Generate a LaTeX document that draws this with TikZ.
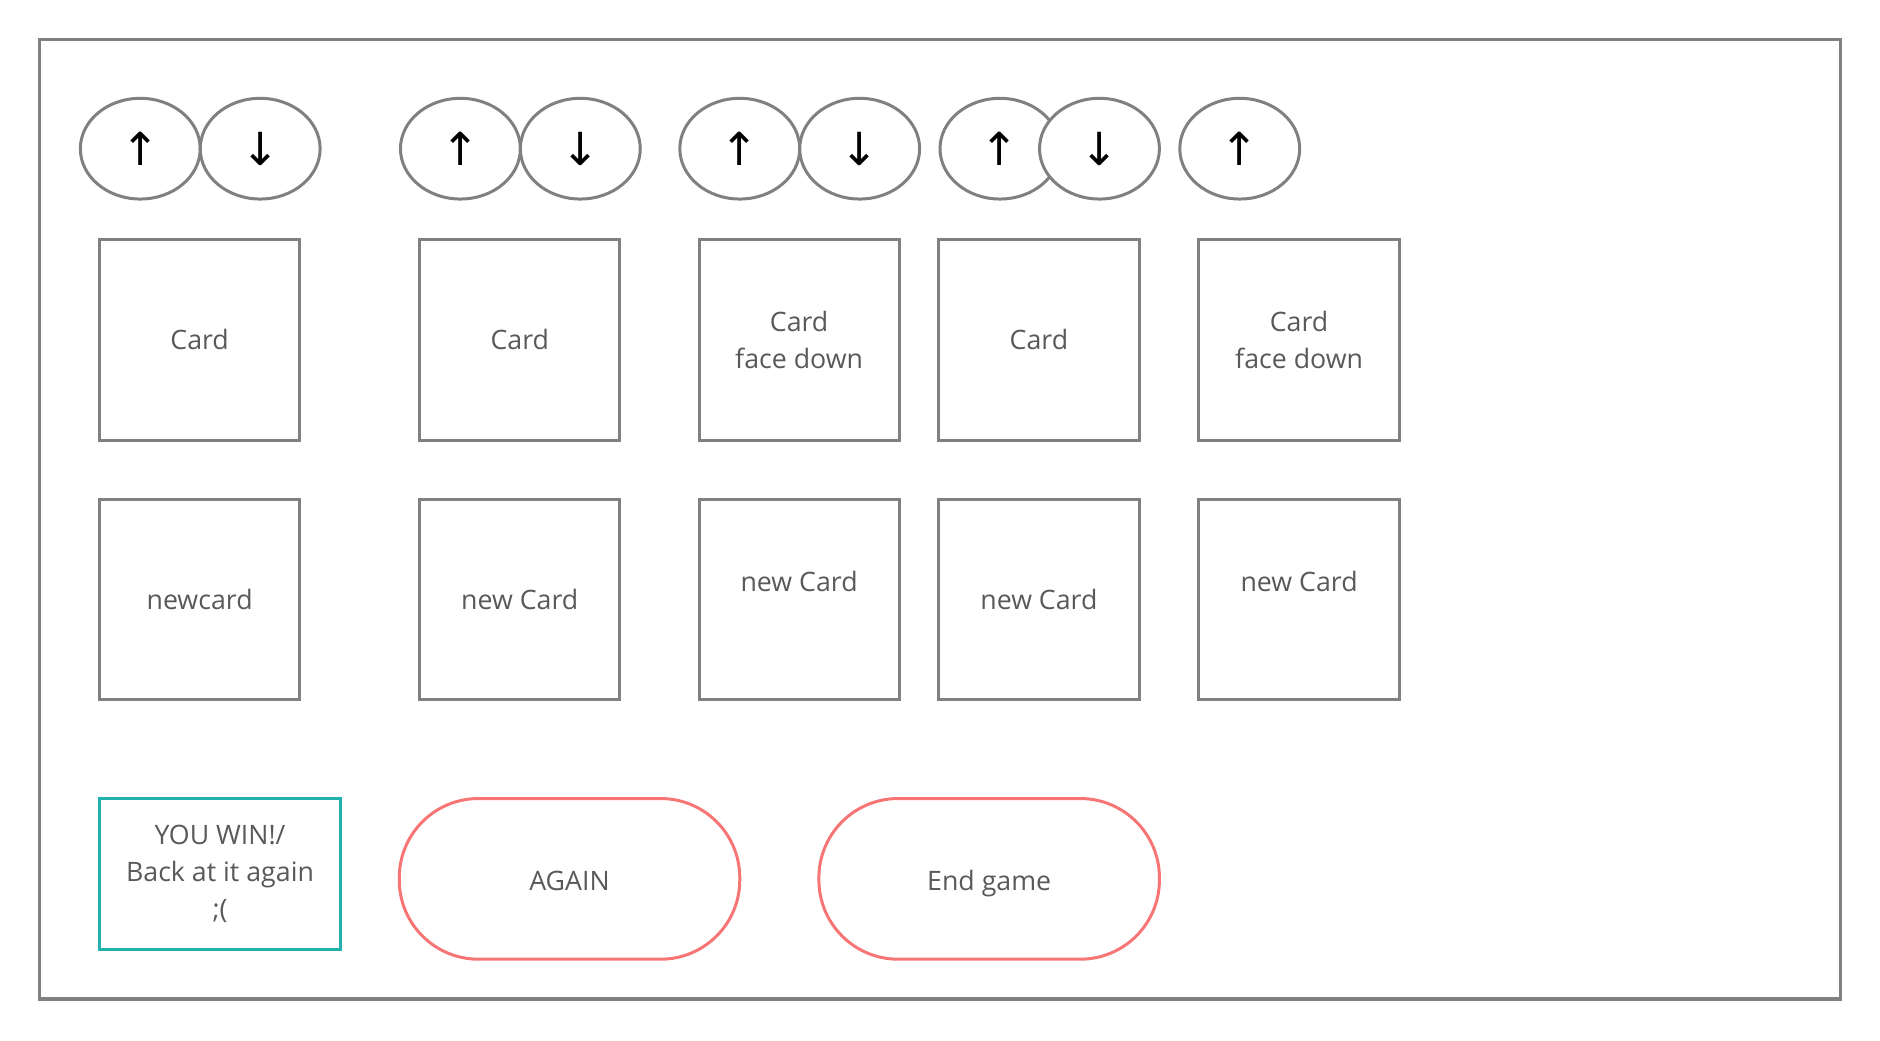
\documentclass[tikz,border=0pt]{standalone}
\usepackage{fontspec}
\setmainfont{Open Sans}
\newfontfamily\arrowfont{DejaVu Sans}
\usepackage{tikz}
\usetikzlibrary{shapes.geometric}
\definecolor{boxgray}{RGB}{128,128,128}
\definecolor{textgray}{RGB}{89,89,89}
\definecolor{winteal}{RGB}{34,178,174}
\definecolor{btnred}{RGB}{247,117,117}

\begin{document}
\begin{tikzpicture}[x=1pt, y=-1pt,
		btn_style/.style={ellipse,draw=boxgray,line width=2.5pt,fill=white,minimum width=100pt,minimum height=84pt,inner sep=0pt,font=\arrowfont\fontsize{38}{38}\selectfont},
		card_style/.style={rectangle,draw=boxgray,line width=2.5pt,minimum size=167pt,inner sep=0pt,align=center,text=textgray,font=\fontsize{22.3}{31}\selectfont},
		win_style/.style={rectangle,draw=winteal,line width=2.5pt,minimum width=201pt,minimum height=126pt,inner sep=0pt,align=center,text=textgray,font=\fontsize{22.3}{31}\selectfont},
		pill_style/.style={rectangle,rounded corners=66pt,draw=btnred,line width=2.5pt,minimum width=284pt,minimum height=134pt,inner sep=0pt,text height=20pt,text depth=0pt,text=textgray,font=\fontsize{22.3}{31}\selectfont}]
		
		\useasboundingbox (0,0) rectangle (1568,868);
		\draw[boxgray, line width=3pt] (33,33) rectangle (1535,833);
		
		\node[btn_style] (up1) at (117,124) {↑};
		\node[btn_style] (down1) at (217,124) {↓};
		\node[btn_style] (up2) at (384,124) {↑};
		\node[btn_style] (down2) at (484,124) {↓};
		\node[btn_style] (up3) at (617,124) {↑};
		\node[btn_style] (down3) at (717,124) {↓};
		\node[btn_style] (up4) at (834,124) {↑};
		\node[btn_style] (down4) at (917,124) {↓};
		\node[btn_style] (up5) at (1034,124) {↑};
		
		\node[card_style] (card1) at (166.5,283.5) {Card};
		\node[card_style] (card2) at (433.5,283.5) {Card};
		\node[card_style] (card3) at (666.5,283.5) {Card\\face down};
		\node[card_style] (card4) at (866.5,283.5) {Card};
		\node[card_style] (card5) at (1083.5,283.5) {Card\\face down};
		
		\node[card_style] (new1) at (166.5,500) {newcard};
		\node[card_style] (new2) at (433.5,500) {new Card};
		\node[card_style] (new3) at (666.5,500) {new Card\\{}};
		\node[card_style] (new4) at (866.5,500) {new Card};
		\node[card_style] (new5) at (1083.5,500) {new Card\\{}};
		
		\node[win_style] (win) at (183.5,729) {YOU WIN!/\\Back at it again\\;(};
		\node[pill_style] (again) at (475,733) {AGAIN};
		\node[pill_style] (endgame) at (825,733) {End game};
		
		\end{tikzpicture}
\end{document}
